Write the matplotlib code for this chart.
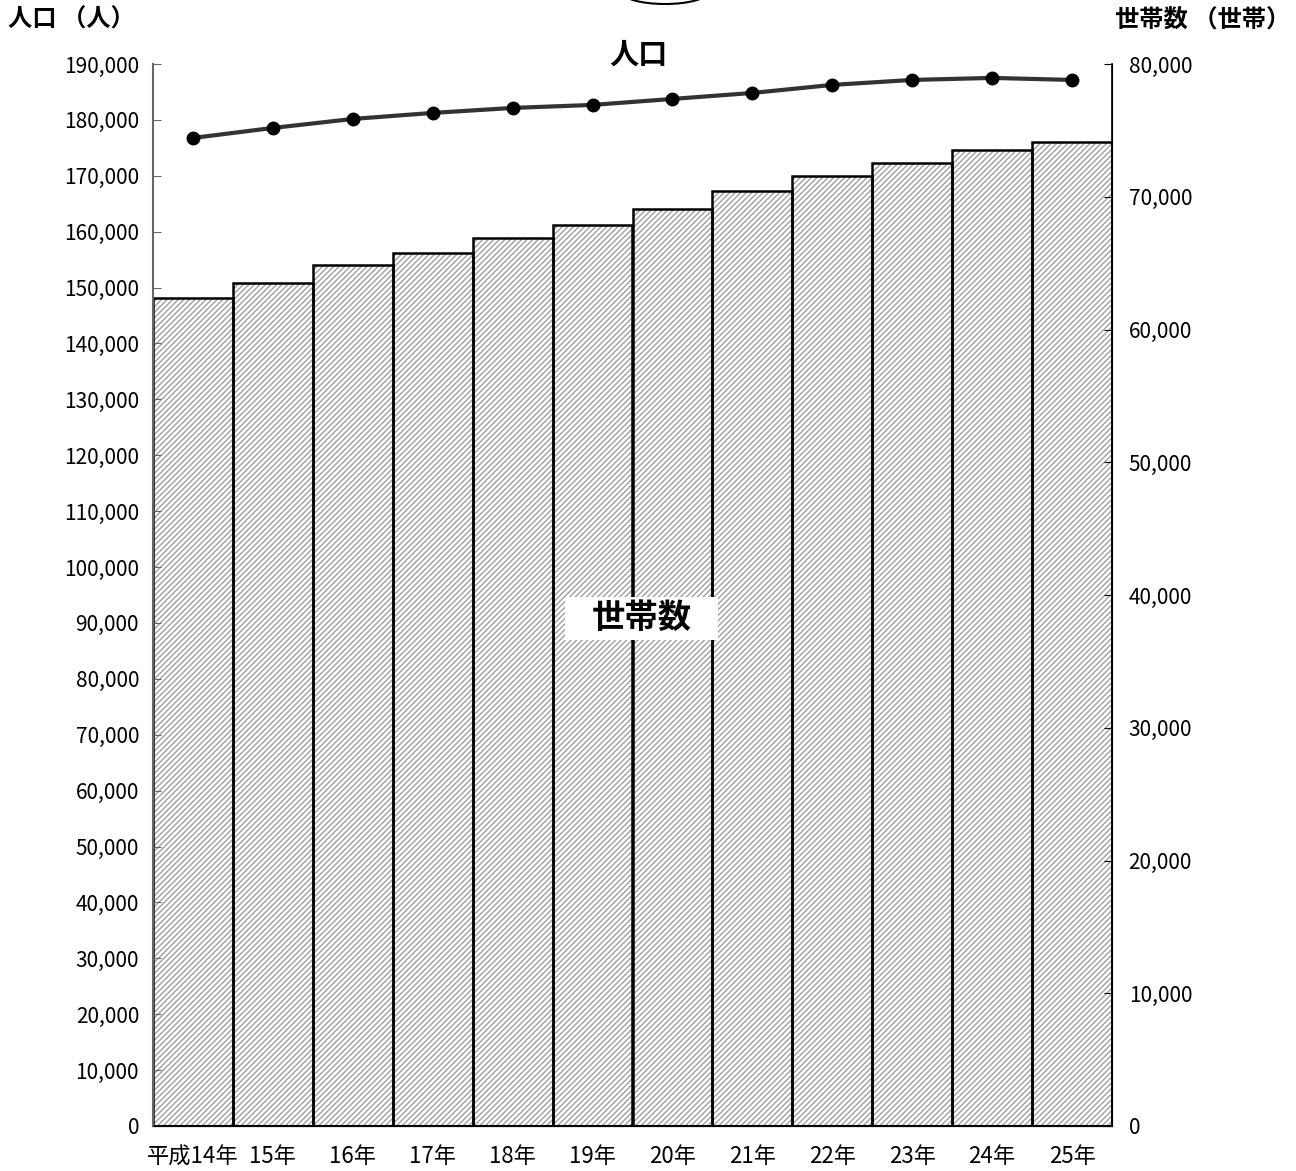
import matplotlib.pyplot as plt
from matplotlib.patches import Ellipse, Rectangle
from matplotlib.ticker import FuncFormatter

plt.rcParams['font.family'] = ['Noto Sans CJK JP', 'DejaVu Sans']

# 年（平成）
years = ['平成14年', '15年', '16年', '17年', '18年', '19年',
         '20年', '21年', '22年', '23年', '24年', '25年']
# 世帯数（右軸）
households = [62370, 63500, 64860, 65760, 66890, 67870,
              69080, 70430, 71560, 72540, 73520, 74120]
# 人口（左軸）
population = [176770, 178560, 180170, 181250, 182140, 182680,
              183750, 184820, 186260, 187150, 187510, 187150]


def main():
    fig = plt.figure(figsize=(12.96, 11.71), dpi=100)
    ax = fig.add_axes([153 / 1296, 45 / 1171, 959 / 1296, 1062 / 1171])
    ax2 = ax.twinx()

    x = list(range(len(years)))

    # bars on the right axis: hatch first, then black outline on top
    ax2.bar(x, households, width=1.0, color='white', edgecolor='#a0a0a0',
            hatch='//////', linewidth=0)
    ax2.bar(x, households, width=1.0, fill=False, edgecolor='black', linewidth=1.8)

    # population line on the left axis, drawn above the bars
    ax.set_zorder(ax2.get_zorder() + 1)
    ax.patch.set_visible(False)
    ax.plot(x, population, color='#333333', linewidth=3, marker='o',
            markersize=9, markerfacecolor='black', markeredgecolor='black')

    ax.set_xlim(-0.5, len(years) - 0.5)
    ax.set_ylim(0, 190000)
    ax.set_yticks(range(0, 190001, 10000))
    ax2.set_ylim(0, 80000)
    ax2.set_yticks(range(0, 80001, 10000))

    fmt = FuncFormatter(lambda v, p: f"{int(v):,}")
    ax.yaxis.set_major_formatter(fmt)
    ax2.yaxis.set_major_formatter(fmt)

    ax.set_xticks(x)
    ax.set_xticklabels(years, fontsize=16)
    ax.tick_params(axis='x', length=0, pad=14)
    ax.tick_params(axis='y', direction='in', length=6, color='#666666', labelsize=15, pad=10)
    ax2.tick_params(axis='y', direction='in', length=6, color='black', labelsize=15, pad=12)

    for a in (ax, ax2):
        a.spines['top'].set_visible(False)
    ax.spines['left'].set_color('#666666')
    ax.spines['left'].set_linewidth(1.5)
    ax2.spines['left'].set_visible(False)
    ax2.spines['right'].set_linewidth(1.2)
    ax2.spines['bottom'].set_linewidth(1.5)

    # axis titles
    fig.text(8 / 1296, 1 - 20 / 1171, '人口 （人）', fontsize=17.5, fontweight='bold',
             ha='left', va='center')
    fig.text(1290 / 1296, 1 - 20 / 1171, '世帯数 （世帯）', fontsize=17.5, fontweight='bold',
             ha='right', va='center')

    # series labels inside the chart
    ax.text(5.58, 191700, '人口', fontsize=21, fontweight='bold', ha='center', va='center')
    ax2.add_patch(Rectangle((4.66, 36600), 1.91, 3250, facecolor='white',
                            edgecolor='none', zorder=5))
    ax2.text(5.62, 38250, '世帯数', fontsize=24, fontweight='bold', ha='center', va='center',
             zorder=6)

    # cut-off shape at the top edge
    fig.patches.append(Ellipse((665 / 1296, 1 + 8 / 1171), 86 / 1296, 24 / 1171,
                               transform=fig.transFigure, fill=False,
                               edgecolor='black', linewidth=1.5))

    fig.savefig('out.png', dpi=100)


if __name__ == '__main__':
    main()
